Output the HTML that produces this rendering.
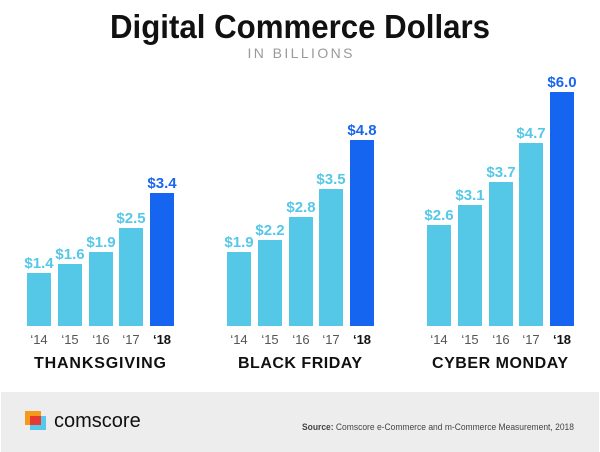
<!DOCTYPE html>
<html><head><meta charset="utf-8"><style>
html,body{margin:0;padding:0;background:#fff;}
svg{display:block;font-family:"Liberation Sans",sans-serif;}
</style></head><body>
<svg width="600" height="452" viewBox="0 0 600 452" xmlns="http://www.w3.org/2000/svg">
<rect width="600" height="452" fill="#fff"/>
<text x="300" y="38" text-anchor="middle" font-size="33" font-weight="bold" fill="#111" textLength="380" lengthAdjust="spacingAndGlyphs">Digital Commerce Dollars</text>
<text x="300" y="58" text-anchor="middle" font-size="14" fill="#9a9a9a" textLength="105" lengthAdjust="spacing">IN BILLIONS</text>

<g font-weight="bold" font-size="15" text-anchor="middle">
<!-- Thanksgiving -->
<rect x="27" y="273" width="24" height="53" fill="#55c8e8"/><text x="39" y="268" fill="#55c8e8">$1.4</text>
<rect x="58" y="264" width="24" height="62" fill="#55c8e8"/><text x="70" y="259" fill="#55c8e8">$1.6</text>
<rect x="89" y="252" width="24" height="74" fill="#55c8e8"/><text x="101" y="247" fill="#55c8e8">$1.9</text>
<rect x="119" y="228" width="24" height="98" fill="#55c8e8"/><text x="131" y="223" fill="#55c8e8">$2.5</text>
<rect x="150" y="193" width="24" height="133" fill="#1565f0"/><text x="162" y="188" fill="#1a66ee">$3.4</text>
<!-- Black Friday -->
<rect x="227" y="252" width="24" height="74" fill="#55c8e8"/><text x="239" y="247" fill="#55c8e8">$1.9</text>
<rect x="258" y="240" width="24" height="86" fill="#55c8e8"/><text x="270" y="235" fill="#55c8e8">$2.2</text>
<rect x="289" y="217" width="24" height="109" fill="#55c8e8"/><text x="301" y="212" fill="#55c8e8">$2.8</text>
<rect x="319" y="189" width="24" height="137" fill="#55c8e8"/><text x="331" y="184" fill="#55c8e8">$3.5</text>
<rect x="350" y="140" width="24" height="186" fill="#1565f0"/><text x="362" y="135" fill="#1a66ee">$4.8</text>
<!-- Cyber Monday -->
<rect x="427" y="225" width="24" height="101" fill="#55c8e8"/><text x="439" y="220" fill="#55c8e8">$2.6</text>
<rect x="458" y="205" width="24" height="121" fill="#55c8e8"/><text x="470" y="200" fill="#55c8e8">$3.1</text>
<rect x="489" y="182" width="24" height="144" fill="#55c8e8"/><text x="501" y="177" fill="#55c8e8">$3.7</text>
<rect x="519" y="143" width="24" height="183" fill="#55c8e8"/><text x="531" y="138" fill="#55c8e8">$4.7</text>
<rect x="550" y="92" width="24" height="234" fill="#1565f0"/><text x="562" y="87" fill="#1a66ee">$6.0</text>
</g>

<g font-size="13" text-anchor="middle" fill="#555">
<text x="39" y="344">‘14</text><text x="70" y="344">‘15</text><text x="101" y="344">‘16</text><text x="131" y="344">‘17</text><text x="162" y="344" font-weight="bold" fill="#111">‘18</text>
<text x="239" y="344">‘14</text><text x="270" y="344">‘15</text><text x="301" y="344">‘16</text><text x="331" y="344">‘17</text><text x="362" y="344" font-weight="bold" fill="#111">‘18</text>
<text x="439" y="344">‘14</text><text x="470" y="344">‘15</text><text x="501" y="344">‘16</text><text x="531" y="344">‘17</text><text x="562" y="344" font-weight="bold" fill="#111">‘18</text>
</g>

<g font-size="16" font-weight="bold" text-anchor="middle" fill="#111">
<text x="100" y="368" textLength="132" lengthAdjust="spacing">THANKSGIVING</text>
<text x="300" y="368" textLength="124" lengthAdjust="spacing">BLACK FRIDAY</text>
<text x="500" y="368" textLength="136" lengthAdjust="spacing">CYBER MONDAY</text>
</g>

<rect x="1" y="392" width="598" height="60" fill="#ededed"/>
<rect x="25" y="411" width="16" height="14" fill="#f59a1c"/>
<rect x="30" y="416" width="16" height="14" fill="#56c8ee"/>
<rect x="30" y="416" width="11" height="9" fill="#e8392e"/>
<text x="54" y="427" font-size="20" fill="#111">comscore</text>
<text x="574" y="430" font-size="9" fill="#444" text-anchor="end" textLength="272" lengthAdjust="spacingAndGlyphs"><tspan font-weight="bold">Source:</tspan> Comscore e-Commerce and m-Commerce Measurement, 2018</text>
</svg>
</body></html>
